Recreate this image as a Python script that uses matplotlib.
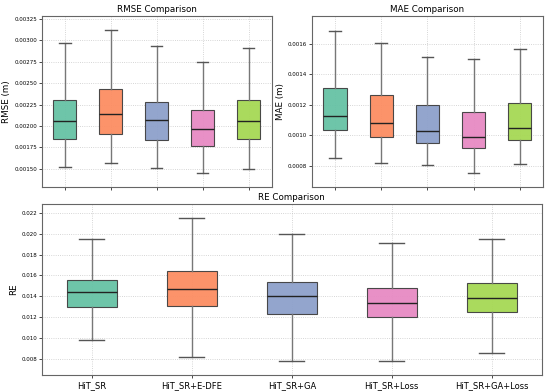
"""
Error metric comparison - box plots of RMSE, MAE and RE per model variant
"""

import numpy as np
import matplotlib

matplotlib.use("Agg")
import matplotlib.pyplot as plt
from matplotlib.ticker import FormatStrFormatter

# Model variants
models = ["HiT_SR", "HiT_SR+E-DFE", "HiT_SR+GA", "HiT_SR+Loss", "HiT_SR+GA+Loss"]

# Box statistics: whisker low, Q1, median, Q3, whisker high
rmse_low = [0.00152, 0.00156, 0.00151, 0.00145, 0.00150]
rmse_q1 = [0.00185, 0.00191, 0.00184, 0.00177, 0.00185]
rmse_med = [0.00206, 0.00214, 0.00207, 0.00196, 0.00206]
rmse_q3 = [0.00230, 0.00243, 0.00228, 0.00218, 0.00230]
rmse_high = [0.00297, 0.00312, 0.00294, 0.00275, 0.00291]

mae_low = [0.000855, 0.000822, 0.000804, 0.000754, 0.000811]
mae_q1 = [0.001035, 0.000990, 0.000948, 0.000916, 0.000968]
mae_med = [0.001125, 0.001079, 0.001031, 0.000992, 0.001049]
mae_q3 = [0.001308, 0.001266, 0.001201, 0.001155, 0.001212]
mae_high = [0.001685, 0.001604, 0.001513, 0.001500, 0.001563]

re_low = [0.00977, 0.00816, 0.00777, 0.00781, 0.00858]
re_q1 = [0.01297, 0.01303, 0.01232, 0.01203, 0.01248]
re_med = [0.01436, 0.01465, 0.01400, 0.01339, 0.01387]
re_q3 = [0.01558, 0.01642, 0.01539, 0.01481, 0.01526]
re_high = [0.01952, 0.02152, 0.01994, 0.01907, 0.01952]

colors = ["#66c2a5", "#fc8d62", "#8da0cb", "#e78ac3", "#a6d854"]


def make_stats(low, q1, med, q3, high):
    """Build the stats list expected by Axes.bxp"""
    return [
        {"whislo": lo, "q1": a, "med": m, "q3": b, "whishi": hi, "fliers": []}
        for lo, a, m, b, hi in zip(low, q1, med, q3, high)
    ]


def draw_box(ax, stats, title, ylabel, ylim, yticks, fmt, show_labels):
    bp = ax.bxp(
        stats,
        positions=np.arange(1, len(stats) + 1),
        widths=0.5,
        patch_artist=True,
        showfliers=False,
        boxprops=dict(edgecolor="#404040", linewidth=0.8),
        whiskerprops=dict(color="#777777", linewidth=1.0),
        capprops=dict(color="#555555", linewidth=1.0),
        medianprops=dict(color="#222222", linewidth=1.0),
    )
    for patch, c in zip(bp["boxes"], colors):
        patch.set_facecolor(c)
        patch.set_alpha(0.95)

    ax.set_title(title, fontsize=6.3, pad=3)
    ax.set_ylabel(ylabel, fontsize=6.3, labelpad=2)
    ax.set_ylim(*ylim)
    ax.set_xlim(0.5, len(stats) + 0.5)
    ax.set_yticks(yticks)
    ax.yaxis.set_major_formatter(FormatStrFormatter(fmt))
    ax.tick_params(axis="y", labelsize=4, length=2, width=0.5, pad=1.5)
    ax.tick_params(axis="x", labelsize=6, length=2, width=0.5, pad=2)
    ax.set_xticks(np.arange(1, len(stats) + 1))
    if show_labels:
        ax.set_xticklabels(models)
    else:
        ax.set_xticklabels([])
    ax.grid(True, linestyle=":", linewidth=0.6, color="#bbbbbb", alpha=0.8)
    ax.set_axisbelow(True)
    for spine in ax.spines.values():
        spine.set_color("#666666")
        spine.set_linewidth(0.8)


fig = plt.figure(figsize=(5.5, 3.92), dpi=100)
ax_rmse = fig.add_axes([0.076, 0.522, 0.418, 0.438])
ax_mae = fig.add_axes([0.567, 0.522, 0.42, 0.438])
ax_re = fig.add_axes([0.076, 0.043, 0.909, 0.437])

draw_box(
    ax_rmse,
    make_stats(rmse_low, rmse_q1, rmse_med, rmse_q3, rmse_high),
    "RMSE Comparison",
    "RMSE (m)",
    (0.00128, 0.00329),
    np.arange(0.0015, 0.00326, 0.00025),
    "%.5f",
    False,
)
draw_box(
    ax_mae,
    make_stats(mae_low, mae_q1, mae_med, mae_q3, mae_high),
    "MAE Comparison",
    "MAE (m)",
    (0.00066, 0.001783),
    np.arange(0.0008, 0.00161, 0.0002),
    "%.4f",
    False,
)
draw_box(
    ax_re,
    make_stats(re_low, re_q1, re_med, re_q3, re_high),
    "RE Comparison",
    "RE",
    (0.00642, 0.02287),
    np.arange(0.008, 0.0221, 0.002),
    "%.3f",
    True,
)

fig.savefig("out.png", dpi=100)
plt.close(fig)
